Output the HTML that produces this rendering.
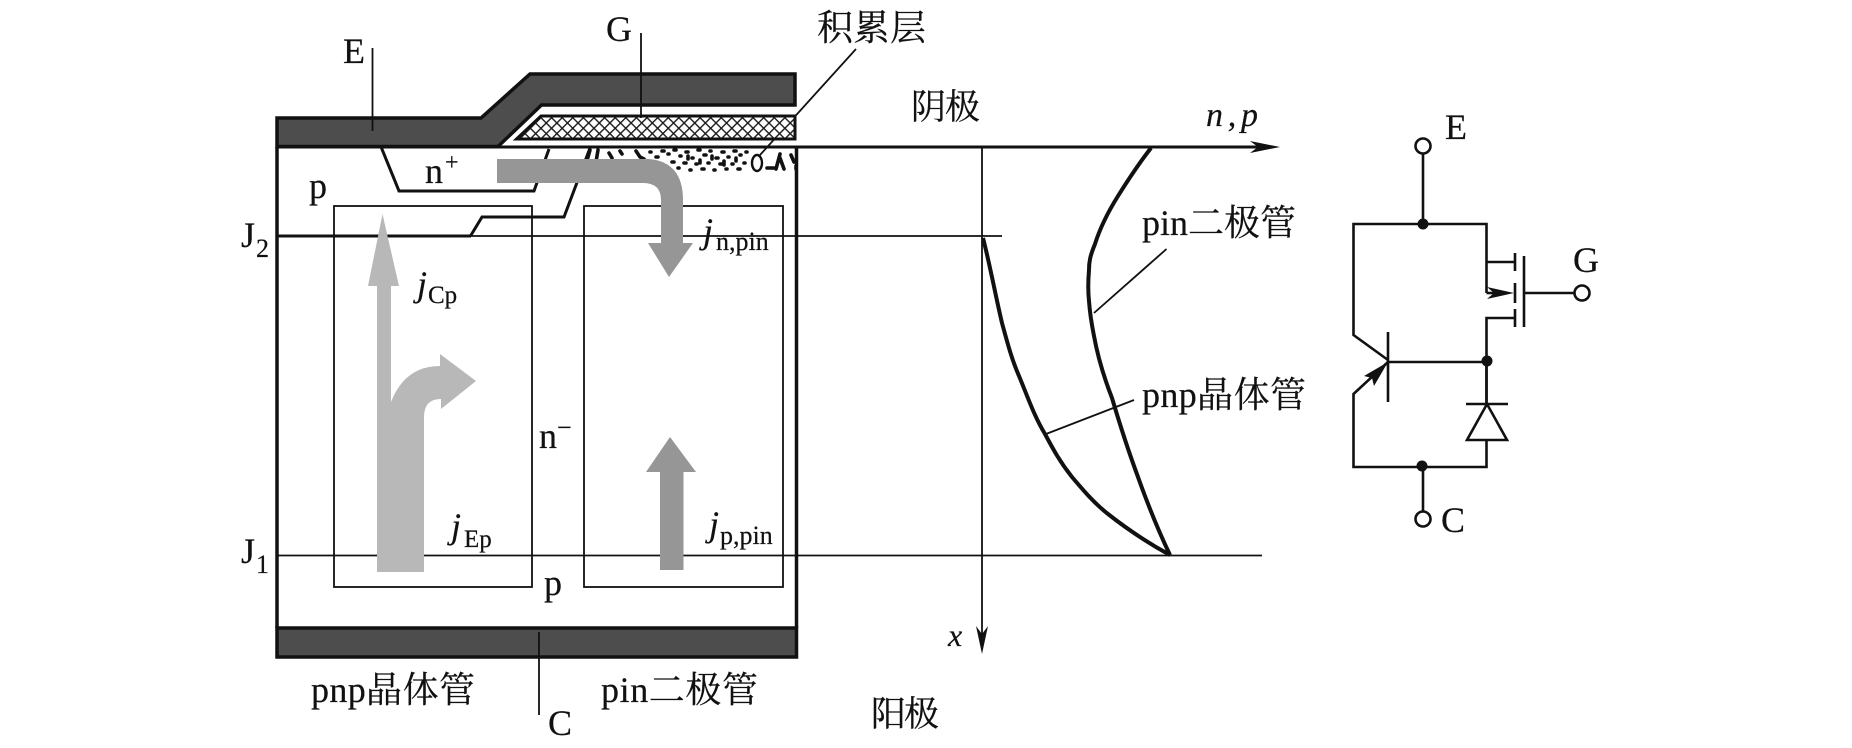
<!DOCTYPE html>
<html><head><meta charset="utf-8">
<style>
html,body{margin:0;padding:0;background:#fff;width:1852px;height:748px;overflow:hidden}
svg{display:block}
text{font-family:"Liberation Serif","Noto Serif CJK SC",serif;fill:#111;stroke:#111;stroke-width:.2}
.i{font-style:italic}
</style></head><body>
<svg width="1852" height="748" viewBox="0 0 1852 748" xmlns="http://www.w3.org/2000/svg">
<defs>
<pattern id="h" width="7.5" height="7.5" patternUnits="userSpaceOnUse" patternTransform="rotate(45)">
<rect width="7.5" height="7.5" fill="#fff"/>
<path d="M0 0H7.5M0 0V7.5" stroke="#1a1a1a" stroke-width="2.8"/>
</pattern>
</defs>
<g fill="none" stroke="#111" stroke-linejoin="miter">
<!-- thin boxes -->
<rect x="334" y="206" width="198" height="381" stroke-width="1.8"/>
<rect x="584" y="206" width="199" height="381" stroke-width="1.8"/>
<!-- device walls -->
<path d="M277 147V628M796.5 147V628" stroke-width="3.5"/>
<!-- top line + axis -->
<path d="M277 147H1272" stroke-width="3"/>
<path d="M1280 147L1250 141L1258 147L1250 153Z" fill="#111" stroke="none"/>
<!-- J lines -->
<path d="M277 236H471" stroke-width="3"/>
<path d="M470 236H1002" stroke-width="1.8"/>
<path d="M277 555.5H1262" stroke-width="1.8"/>
<!-- x axis -->
<path d="M982 147V640" stroke-width="1.8"/>
<path d="M982 654L976 626L982 634L988 626Z" fill="#111" stroke="none"/>
<!-- n+ -->
<path d="M381.5 148L399 191H534L549 149" stroke-width="3"/>
<!-- p well -->
<path d="M470.5 236L482 217H564L590 148" stroke-width="3"/>
<!-- accumulation leader -->
<path d="M856 49L760 155" stroke-width="1.8"/>
<ellipse cx="757" cy="163" rx="5" ry="8" stroke-width="2.4"/>
</g>
<!-- accumulation dots -->
<g fill="none" stroke="#111" stroke-width="3.6" stroke-linecap="round">
<path d="M590 150L586 164M598 150L596 162M609 153L612 158M620 151L622 154M636 151L640 157L644 159"/>
<path d="M650 152h1M656 157h2M662 151h2M668 154h1M674 150h2M680 156h1M686 152h2M692 158h1M698 150h2M704 155h2M710 151h1M716 158h2M722 152h2M728 157h1M734 151h2M740 155h1M746 152h1M660 164h2M666 170h1M672 162h2M678 168h1M684 163h2M690 170h1M696 164h1M702 169h2M708 163h1M714 170h1M720 164h2M726 169h1M732 164h1M738 169h2M744 163h1M652 165h1M688 156v3M700 160v3M712 156v3M724 161v4M736 158v3"/>
<path d="M767 168h7M780 154L776 169M780 158L784 169M791 155L794 162M796 166v3"/>
</g>
<!-- emitter metal -->
<path d="M277 118H481L530 74H795V105H541.5L498 146.5H277Z" fill="#4d4d4d" stroke="#111" stroke-width="3.5"/>
<!-- gate -->
<path d="M541 116H795V139H516.5Z" fill="url(#h)" stroke="#111" stroke-width="3"/>
<!-- collector -->
<rect x="277" y="628" width="519.5" height="29" fill="#4d4d4d" stroke="#111" stroke-width="3.5"/>
<!-- leaders -->
<g stroke="#111" stroke-width="1.8" fill="none">
<path d="M372.5 48V131"/>
<path d="M641 33V118"/>
<path d="M539 632V715"/>
<path d="M1094 313L1166.5 249"/>
<path d="M1046 434L1134 400"/>
</g>
<!-- gray arrows -->
<path d="M377 572V286H368L382.5 214L399 286H391V402Q405 366 440 366V354L476 381L441 409V399Q424 399 424 417V572Z" fill="#b8b8b8"/>
<path d="M497 159H649Q683 162 683 200V243H693L669 277L648 243H661V200Q661 183 643 183H497Z" fill="#969696"/>
<path d="M660 570V472H646L670 437L696 472H683.5V570Z" fill="#969696"/>
<!-- curves -->
<g fill="none" stroke="#111" stroke-width="4" stroke-linejoin="round">
<path d="M1151 148C1140 162 1128 180 1118 196C1108 212 1100 228 1095 244C1090 256 1089 262 1089 270C1088 282 1088 292 1089 301C1090 315 1092 326 1094 336C1098 358 1105 380 1112 398C1120 425 1128 450 1138 477C1148 505 1158 530 1170 555"/>
<path d="M983 238C990 265 996 298 1002 323C1008 345 1012 360 1019 376C1027 395 1034 416 1045 434C1053 449 1060 462 1072 477C1083 490 1094 503 1108 514C1127 529 1150 544 1170 555"/>
</g>
<!-- circuit -->
<g fill="none" stroke="#111" stroke-width="2.6">
<circle cx="1423" cy="146" r="7.5"/>
<circle cx="1423" cy="519" r="7.5"/>
<circle cx="1582" cy="293" r="7.5"/>
<path d="M1423 154V224M1423 467V511"/>
<path d="M1486.5 293V224H1353.5V335L1388 360"/>
<path d="M1388 362L1353.5 394V467H1486.5V440"/>
<path d="M1388 332V402M1388 362H1487"/>
<path d="M1486.5 404V318H1514"/>
<path d="M1486.5 262H1514"/>
<path d="M1486.5 293H1500"/>
<path d="M1515 253V271M1515 283V303M1515 309V327M1524 256V327M1524 293H1574"/>
<path d="M1467 440H1507L1487 404ZM1466 404H1508M1486.5 404V361"/>
</g>
<path d="M1514 293L1487 287L1494 293L1487 299Z" fill="#111"/>
<path d="M1388 362L1364 376L1372 378L1374 386Z" fill="#111"/>
<circle cx="1423" cy="224" r="5.5" fill="#111"/>
<circle cx="1487" cy="361" r="5.5" fill="#111"/>
<circle cx="1422" cy="466" r="5.5" fill="#111"/>
<!-- labels -->
<g font-size="36">
<text x="343" y="63">E</text>
<text x="606" y="41">G</text>
<text x="817" y="40" textLength="109">积累层</text>
<text x="911" y="119" textLength="69" font-size="35">阴极</text>
<text x="871" y="726" textLength="68" font-size="35">阳极</text>
<text x="241" y="247">J</text>
<text x="256" y="257" font-size="26">2</text>
<text x="241" y="563">J</text>
<text x="256" y="573" font-size="26">1</text>
<text x="309" y="198">p</text>
<text x="425" y="183">n</text>
<text x="445" y="170" font-size="24">+</text>
<text x="539" y="448">n</text>
<text x="557" y="436" font-size="26">−</text>
<text x="544" y="595">p</text>
<text x="548" y="735">C</text>
<text x="311" y="702" textLength="164">pnp晶体管</text>
<text x="601" y="702" textLength="157">pin二极管</text>
<text x="1142" y="235">pin二极管</text>
<text x="1142" y="407" textLength="164">pnp晶体管</text>
<text x="1206" y="126" class="i" font-size="34" textLength="52">n,p</text>
<text x="948" y="646" class="i" font-size="32">x</text>
<text x="1445" y="139">E</text>
<text x="1573" y="272">G</text>
<text x="1441" y="532">C</text>
<text x="703" y="243" class="i">j</text>
<text x="716" y="250" font-size="26">n,pin</text>
<text x="417" y="296" class="i">j</text>
<text x="428" y="303" font-size="25">Cp</text>
<text x="451" y="538" class="i">j</text>
<text x="464" y="547" font-size="25">Ep</text>
<text x="709" y="536" class="i">j</text>
<text x="720" y="544" font-size="26">p,pin</text>
</g>
</svg>
</body></html>
